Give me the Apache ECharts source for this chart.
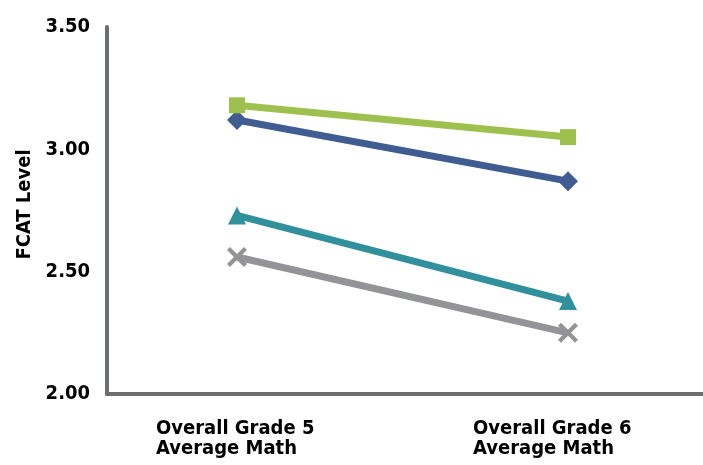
<!DOCTYPE html>
<html>
<head>
<meta charset="utf-8">
<script src="https://cdn.jsdelivr.net/npm/echarts@6/dist/echarts.min.js"></script>
<style>
html,body{margin:0;padding:0;background:#fff;}
#chart{width:703px;height:465px;}
</style>
</head>
<body>
<div id="chart"></div>
<script>
const categories = ['Overall Grade 5\nAverage Math', 'Overall Grade 6\nAverage Math'];
const seriesGreen = [3.18, 3.05];
const seriesBlue = [3.12, 2.87];
const seriesTeal = [2.73, 2.38];
const seriesGrey = [2.56, 2.25];
const yTicks = [2.00, 2.50, 3.00, 3.50];

const FONT = '"DejaVu Sans Condensed", "DejaVu Sans", sans-serif';
const crossPath = 'path://M0,3 L3,0 L10,7 L17,0 L20,3 L13,10 L20,17 L17,20 L10,13 L3,20 L0,17 L7,10 Z';

function toPts(arr){ return arr.map((v,i)=>[i,v]); }

function mk(name, data, color, symbol, size){
  return {
    name, type:'line', data: toPts(data),
    symbol, symbolSize: size, showSymbol:true,
    lineStyle:{color, width:7},
    itemStyle:{color, borderWidth:0},
    emphasis:{disabled:true},
    z: 3
  };
}

const labelStyle = {align:'left', fontFamily:FONT, fontWeight:'bold', fontSize:20, lineHeight:20, color:'#000'};

const chart = echarts.init(document.getElementById('chart'), null, {renderer:'canvas'});
chart.setOption({
  animation:false,
  grid:{left:107, right:0, top:27, bottom:71, containLabel:false},
  xAxis:{
    type:'value', min:-0.3927, max:1.4079,
    splitLine:{show:false},
    axisTick:{show:false},
    axisLine:{show:true, onZero:false, lineStyle:{color:'#6d6e71', width:4}},
    axisLabel:{
      customValues:[0,1],
      margin:25,
      align:'center',
      formatter:(v)=>{
        const i = Math.round(v);
        const key = i === 0 ? 'a' : 'b';
        return categories[i].split('\n').map(l=>'{'+key+'|'+l+'}').join('\n');
      },
      rich:{
        a:Object.assign({width:162}, labelStyle),
        b:Object.assign({width:190}, labelStyle)
      }
    }
  },
  yAxis:{
    type:'value', min:2.0, max:3.5, interval:0.5,
    name:'FCAT Level', nameLocation:'middle', nameGap:72, nameRotate:90,
    nameTextStyle:{fontFamily:FONT, fontWeight:'bold', fontSize:20, color:'#000', padding:[0,0,0,12]},
    splitLine:{show:false},
    axisTick:{show:false},
    axisLine:{show:true, onZero:false, lineStyle:{color:'#6d6e71', width:4}},
    axisLabel:{
      margin:17,
      fontFamily:FONT, fontWeight:'bold', fontSize:20, color:'#000',
      formatter:(v)=>{ const t = yTicks.find(x=>Math.abs(x-v)<1e-6); return t!==undefined ? t.toFixed(2) : ''; }
    }
  },
  series:[
    mk('Grey', seriesGrey, '#939497', crossPath, 20),
    mk('Teal', seriesTeal, '#30909c', 'triangle', 18),
    mk('Blue', seriesBlue, '#405d92', 'diamond', 20),
    mk('Green', seriesGreen, '#9dc04f', 'rect', 16)
  ]
});
</script>
</body>
</html>
